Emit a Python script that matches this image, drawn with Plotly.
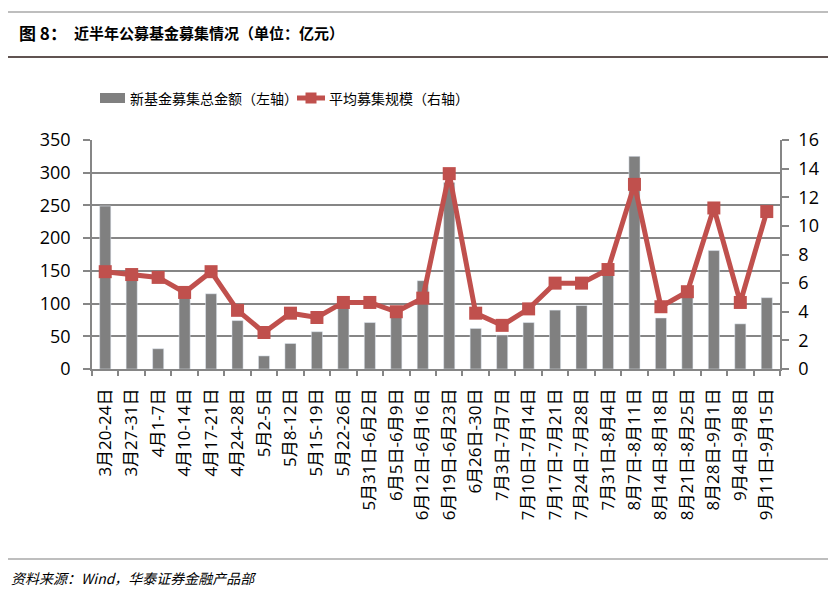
import plotly.graph_objects as go

categories = ["3月20-24日", "3月27-31日", "4月1-7日", "4月10-14日", "4月17-21日", "4月24-28日",
              "5月2-5日", "5月8-12日", "5月15-19日", "5月22-26日", "5月31日-6月2日", "6月5日-6月9日",
              "6月12日-6月16日", "6月19日-6月23日", "6月26日-30日", "7月3日-7月7日", "7月10日-7月14日",
              "7月17日-7月21日", "7月24日-7月28日", "7月31日-8月4日", "8月7日-8月11日", "8月14日-8月18日",
              "8月21日-8月25日", "8月28日-9月1日", "9月4日-9月8日", "9月11日-9月15日"]
total_raised = [249, 145, 31, 110, 115, 74, 20, 39, 57, 95, 71, 85, 135, 285, 62, 52, 71, 90, 97,
                150, 325, 78, 110, 181, 69, 109]
avg_size = [6.8, 6.6, 6.4, 5.35, 6.8, 4.1, 2.55, 3.9, 3.6, 4.65, 4.65, 4.0, 4.95, 13.65, 3.9, 3.05,
            4.2, 6.0, 6.0, 6.95, 12.9, 4.35, 5.4, 11.25, 4.65, 11.0]
left_ticks = [0, 50, 100, 150, 200, 250, 300, 350]
right_ticks = [0, 2, 4, 6, 8, 10, 12, 14, 16]

BAR = "#808080"
RED = "#c0504d"
AX = "#868686"
FONT = "Noto Sans CJK SC"
NUMFONT = "Open Sans, Noto Sans CJK SC"

fig = go.Figure()
fig.add_trace(go.Bar(x=categories, y=total_raised, marker_color=BAR, name="新基金募集总金额（左轴）",
                     showlegend=False))
fig.add_trace(go.Scatter(x=categories, y=avg_size, yaxis="y2", mode="lines+markers",
                         line=dict(color=RED, width=5),
                         marker=dict(symbol="square", size=13, color=RED),
                         name="平均募集规模（右轴）", showlegend=False))

# page draws the figure with an 8px body margin; compensate
OFF = 8
W, H = 838 - OFF, 599 - OFF
L, T = 92 - OFF, 140 - OFF
R = W - (780 - OFF)
B = H - (369 - OFF)
PW = W - L - R
PH = H - T - B

fig.update_layout(
    width=W, height=H,
    margin=dict(l=L, r=R, t=T, b=B, autoexpand=False),
    paper_bgcolor="white", plot_bgcolor="white",
    bargap=0.58,
    font=dict(family=FONT, color="black"),
    xaxis=dict(type="category", range=[-0.5, len(categories) - 0.5], automargin=False,
               showline=True, linecolor=AX, linewidth=1.5,
               ticks="outside", tickson="boundaries", ticklen=5, tickcolor=AX, tickwidth=1.5,
               tickangle=-90, tickfont=dict(family=NUMFONT, size=17, color="black"),
               showgrid=False, ticklabelstandoff=11),
    yaxis=dict(range=[0, 350], tickvals=left_ticks, automargin=False,
               showline=True, linecolor=AX, linewidth=1.5,
               ticks="outside", ticklen=7, tickcolor=AX, tickwidth=1.5,
               showgrid=True, gridcolor=AX, gridwidth=1.5, zeroline=False,
               tickfont=dict(family=NUMFONT, size=18, color="black"), ticklabelstandoff=9),
    yaxis2=dict(range=[0, 16], tickvals=right_ticks, overlaying="y", side="right", automargin=False,
                showline=True, linecolor=AX, linewidth=1.5,
                ticks="outside", ticklen=7, tickcolor=AX, tickwidth=1.5,
                showgrid=False, zeroline=False,
                tickfont=dict(family=NUMFONT, size=18, color="black"), ticklabelstandoff=6),
    showlegend=False,
)

def px_x(x):
    return (x - OFF - L) / PW

def px_y(y):
    return (H - B - (y - OFF)) / PH

shapes = [
    dict(type="line", x0=px_x(8), x1=px_x(828), y0=px_y(12), y1=px_y(12),
         line=dict(color="#7f7f7f", width=1.2)),
    dict(type="line", x0=px_x(8), x1=px_x(828), y0=px_y(57), y1=px_y(57),
         line=dict(color="#2b1a17", width=1.5)),
    dict(type="line", x0=px_x(8), x1=px_x(828), y0=px_y(559), y1=px_y(559),
         line=dict(color="#7f7f7f", width=1.2)),
    # legend swatches
    dict(type="rect", x0=px_x(100), x1=px_x(125), y0=px_y(103), y1=px_y(93),
         fillcolor=BAR, line=dict(width=0)),
    dict(type="line", x0=px_x(297), x1=px_x(325), y0=px_y(98), y1=px_y(98),
         line=dict(color=RED, width=5)),
    dict(type="rect", x0=px_x(305.5), x1=px_x(316.5), y0=px_y(103.5), y1=px_y(92.5),
         fillcolor=RED, line=dict(width=0)),
]
for s in shapes:
    s.update(xref="paper", yref="paper")
fig.update_layout(shapes=shapes)

ann = [
    dict(text="<b>图 8：</b>", x=px_x(17), y=px_y(33), xanchor="left", yanchor="middle",
         font=dict(size=17, family=FONT, color="black")),
    dict(text="<b>近半年公募基金募集情况（单位：亿元）</b>", x=px_x(72), y=px_y(33), xanchor="left",
         yanchor="middle", font=dict(size=15, family=FONT, color="black")),
    dict(text="新基金募集总金额（左轴）", x=px_x(128), y=px_y(98), xanchor="left", yanchor="middle",
         font=dict(size=14, family=FONT, color="black")),
    dict(text="平均募集规模（右轴）", x=px_x(327), y=px_y(98), xanchor="left", yanchor="middle",
         font=dict(size=14, family=FONT, color="black")),
    dict(text="<i>资料来源：Wind，华泰证券金融产品部</i>", x=px_x(9), y=px_y(578), xanchor="left",
         yanchor="middle", font=dict(size=14, family=FONT, color="black")),
]
for a in ann:
    a.update(xref="paper", yref="paper", showarrow=False)
fig.update_layout(annotations=ann)

fig.write_html("out.html")
